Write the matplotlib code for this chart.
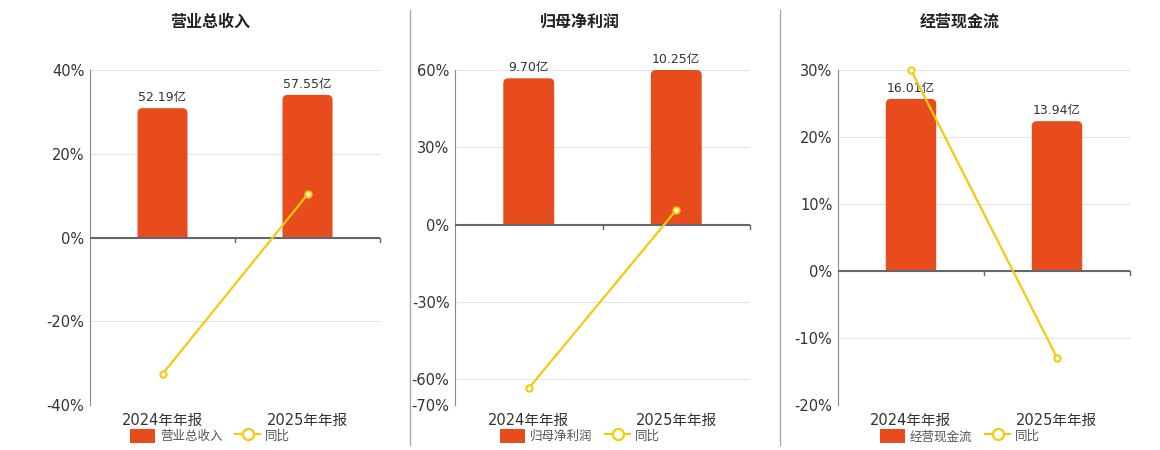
import numpy as np
import matplotlib
matplotlib.use('Agg')
import matplotlib.pyplot as plt
from matplotlib.patches import Rectangle, PathPatch, FancyBboxPatch
from matplotlib.path import Path
from matplotlib.lines import Line2D

plt.rcParams['font.family'] = ['DejaVu Sans', 'Noto Sans CJK SC']

# datos
categorias = ['2024年年报', '2025年年报']
titulos = ['营业总收入', '归母净利润', '经营现金流']
valores = [[52.19, 57.55], [9.70, 10.25], [16.01, 13.94]]
etiquetas = [['52.19亿', '57.55亿'], ['9.70亿', '10.25亿'], ['16.01亿', '13.94亿']]
tongbi = [[-32.6, 10.27], [-63.5, 5.67], [30.0, -12.93]]
ylims = [(-40, 40), (-70, 60), (-20, 30)]
yticks = [[-40, -20, 0, 20, 40], [-70, -60, -30, 0, 30, 60], [-20, -10, 0, 10, 20, 30]]
bar_top = [67.6, 10.25, 18.7]   # valor de barra que llega al tope del eje

rojo = '#E84B1C'
amarillo = '#F2CB0C'
fuente_num = ['DejaVu Sans']
fuente_mix = ['DejaVu Sans', 'Noto Sans CJK SC']


def barra_redondeada(x0, ancho, h, rx, ry):
    x1 = x0 + ancho
    verts = [(x0, 0), (x0, h - ry), (x0, h), (x0 + rx, h), (x1 - rx, h),
             (x1, h), (x1, h - ry), (x1, 0), (x0, 0)]
    codes = [Path.MOVETO, Path.LINETO, Path.CURVE3, Path.CURVE3, Path.LINETO,
             Path.CURVE3, Path.CURVE3, Path.LINETO, Path.CLOSEPOLY]
    return Path(verts, codes)


fig = plt.figure(figsize=(11.6, 4.5), dpi=100)
lefts = [90, 455, 838]
widths = [290, 295, 292]
centros = [210, 580, 960]

for i in range(3):
    ax = fig.add_axes([lefts[i] / 1160, 45 / 450, widths[i] / 1160, 335 / 450])
    ymin, ymax = ylims[i]
    ax.set_xlim(-0.5, 1.5)
    ax.set_ylim(ymin, ymax)
    ax.set_yticks(yticks[i])
    ax.set_yticklabels(['%d%%' % t for t in yticks[i]], family=fuente_num)
    ax.grid(axis='y', color='#e1e5ef', linewidth=0.8)
    ax.set_axisbelow(True)
    for s in ['top', 'right', 'bottom']:
        ax.spines[s].set_visible(False)
    ax.spines['left'].set_color('#888888')
    ax.tick_params(axis='y', length=0, labelsize=10.5, labelcolor='#333333', pad=4)
    ax.set_xticks([0, 1])
    ax.set_xticklabels(categorias, family=fuente_mix)
    ax.tick_params(axis='x', length=0, labelsize=10.5, labelcolor='#333333', pad=6)
    ax.axhline(0, color='#666670', linewidth=1.5, zorder=4)
    # marcas bajo el eje cero
    for xt in [0.5, 1.5]:
        ax.plot([xt, xt], [0, -(ymax - ymin) * 0.012], color='#666670', lw=1, zorder=4,
                clip_on=False)

    # barras en eje oculto
    k = bar_top[i] / ymax
    bw = 0.345
    px_x = widths[i] / 2.0
    px_y = 335.0 / (ymax - ymin)
    for j, v in enumerate(valores[i]):
        h = v / k
        p = barra_redondeada(j - bw / 2, bw, h, 5.0 / px_x, 5.0 / px_y)
        ax.add_patch(PathPatch(p, facecolor=rojo, edgecolor='none', zorder=2))
        ax.text(j, h + 4.0 / px_y, etiquetas[i][j], ha='center', va='bottom',
                fontsize=9, color='#333333', zorder=3, family=fuente_mix)

    ax.plot([0, 1], tongbi[i], color=amarillo, lw=1.6, marker='o', markersize=4.5,
            markerfacecolor='white', markeredgecolor=amarillo, markeredgewidth=1.5,
            zorder=5, clip_on=False)

    fig.text(centros[i] / 1160, 1 - 22 / 450, titulos[i], ha='center', va='center',
             fontsize=11.5, fontweight='bold', color='#222222',
             family=['Noto Sans CJK SC', 'DejaVu Sans'])

    h1 = FancyBboxPatch((0, 0), 1, 1, boxstyle='round,pad=0,rounding_size=0.25',
                        facecolor=rojo, edgecolor='none')
    h2 = Line2D([], [], color=amarillo, lw=1.6, marker='o', markersize=8,
                markerfacecolor='white', markeredgecolor=amarillo, markeredgewidth=1.6)
    leg = fig.legend([h1, h2], [titulos[i], '同比'], loc='center',
                     bbox_to_anchor=(centros[i] / 1160, 1 - 436 / 450), ncol=2, frameon=False,
                     prop={'family': 'Noto Sans CJK SC', 'size': 9},
                     handlelength=2.0, handleheight=1.4, columnspacing=1.0, handletextpad=0.4)
    for t in leg.get_texts():
        t.set_color('#555555')

# separadores
for xd in [410, 780]:
    fig.add_artist(Line2D([xd / 1160, xd / 1160], [1 - 445 / 450, 1 - 10 / 450],
                          color='#aaaaaa', lw=1))

plt.savefig('out.png', dpi=100)
plt.close()
